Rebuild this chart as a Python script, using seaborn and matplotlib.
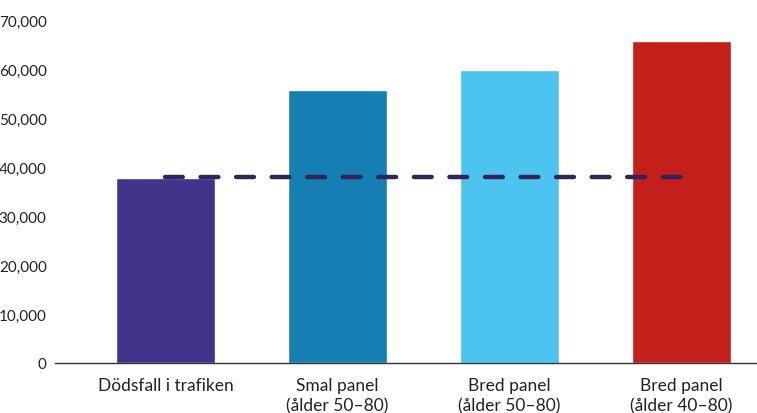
import matplotlib
matplotlib.use('Agg')
from matplotlib import pyplot as plt
import pandas as pd
import seaborn as sns

categories = ['Dödsfall i trafiken', 'Smal panel\n(ålder 50–80)', 'Bred panel\n(ålder 50–80)', 'Bred panel\n(ålder 40–80)']
values = [37700, 55700, 59800, 65700]
colors = ['#41348A', '#157FB4', '#4DC3EF', '#C3201C']
reference_value = 38000
yticks = [0, 10000, 20000, 30000, 40000, 50000, 60000, 70000]

df = pd.DataFrame({'kategori': categories, 'varde': values})

sns.set_theme(style='white')
plt.rcParams['font.family'] = ['Lato', 'DejaVu Sans']

fig = plt.figure(figsize=(7.57, 4.14), dpi=100)
ax = fig.add_axes([0.0727, 0.1208, 0.9273, 0.8285])

sns.barplot(data=df, x='kategori', y='varde', hue='kategori', palette=colors,
            width=0.576, legend=False, ax=ax, saturation=1)

# dashed reference line from first to last bar centre
ax.plot([0, len(categories) - 1], [reference_value, reference_value], color='#2E2559',
        linestyle=(0, (4, 4)), linewidth=3.2, dash_capstyle='round', zorder=5)

ax.set_xlim(-0.642, 3.44)
ax.set_ylim(0, 70000)
ax.set_yticks(yticks)
ax.set_yticklabels([f'{t:,}' for t in yticks])
ax.set_xlabel('')
ax.set_ylabel('')
ax.tick_params(axis='y', length=0, labelsize=11, colors='#222222', pad=6)
ax.tick_params(axis='x', length=0, labelsize=12.5, colors='#222222', pad=10)
for lbl in ax.get_xticklabels():
    lbl.set_linespacing(1.3)

for side in ['top', 'right', 'left']:
    ax.spines[side].set_visible(False)
ax.spines['bottom'].set_color('#333333')
ax.spines['bottom'].set_linewidth(1)

fig.savefig('out.png', dpi=100)
